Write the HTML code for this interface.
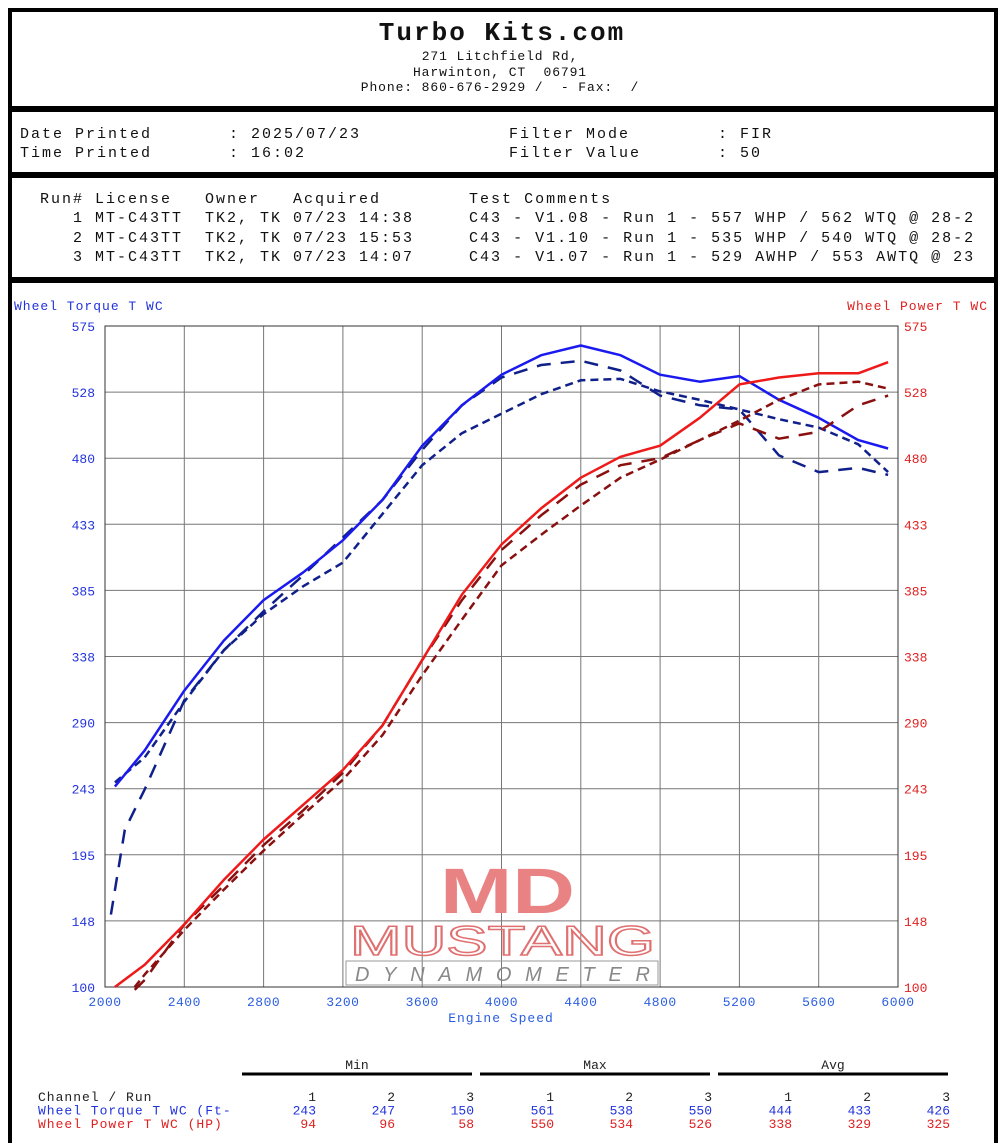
<!DOCTYPE html>
<html><head><meta charset="utf-8"><style>
body{margin:0;background:#fff;width:1000px;height:1139px;overflow:hidden;font-family:"Liberation Mono",monospace;}
.frame{position:absolute;left:8px;top:8px;width:982px;height:1131px;border-left:4px solid #000;border-right:4px solid #000;border-top:4px solid #000;}
.sep{position:absolute;left:8px;width:990px;height:6px;background:#000;}
.t{position:absolute;white-space:pre;font-size:15px;color:#111;letter-spacing:2px;}
</style></head><body>
<div class="frame"></div>
<div class="sep" style="top:106px"></div>
<div class="sep" style="top:172px"></div>
<div class="sep" style="top:277px"></div>
<div>
<div class="t" style="left:0;width:1004px;text-align:center;top:18px;font-size:26px;font-weight:bold;letter-spacing:2px">Turbo Kits.com</div>
<div class="t" style="left:0;width:1000px;text-align:center;top:49px;font-size:13px;line-height:15.5px;letter-spacing:0.9px">271 Litchfield Rd,
Harwinton, CT  06791
Phone: 860-676-2929 /  - Fax:  /</div>
</div>
<div class="t" style="left:20px;top:125px;line-height:19px">Date Printed       : 2025/07/23
Time Printed       : 16:02</div>
<div class="t" style="left:509px;top:125px;line-height:19px">Filter Mode        : FIR
Filter Value       : 50</div>
<div class="t" style="left:40px;top:190px;line-height:19.3px">Run# License   Owner   Acquired        Test Comments
   1 MT-C43TT  TK2, TK 07/23 14:38     C43 - V1.08 - Run 1 - 557 WHP / 562 WTQ @ 28-2
   2 MT-C43TT  TK2, TK 07/23 15:53     C43 - V1.10 - Run 1 - 535 WHP / 540 WTQ @ 28-2
   3 MT-C43TT  TK2, TK 07/23 14:07     C43 - V1.07 - Run 1 - 529 AWHP / 553 AWTQ @ 23</div>

<svg id="chart" width="1000" height="1139" style="position:absolute;left:0;top:0"></svg>
<script>
const rpm=[2050,2200,2400,2600,2800,3000,3200,3400,3600,3800,4000,4200,4400,4600,4800,5000,5200,5400,5600,5800,5950];
const tq1=[244,270,313,349,378,398,421,450,489,518,540,554,561,554,540,535,539,522,509,493,487];
const tq2=[247,265,305,342,368,388,405,440,475,498,512,526,536,537,528,522,515,508,502,490,470];
const rpm3=[2030,2100,2200,2400,2600,2800,3000,3200,3400,3600,3800,4000,4200,4400,4600,4800,5000,5200,5400,5600,5800,5950];
const tq3=[152,213,242,306,342,370,396,423,450,486,518,538,547,550,543,525,518,515,482,470,473,468];
const hp1=[100,116,145,177,206,231,256,288,335,382,418,444,466,481,489,509,533,538,541,541,549];
const hp2r=[2150,2200,2400,2600,2800,3000,3200,3400,3600,3800,4000,4200,4400,4600,4800,5000,5200,5400,5600,5800,5950];
const hp2=[100,109,141,170,198,224,249,281,324,364,403,425,446,466,479,493,507,522,533,535,530];
const hp3=[98,105,145,173,202,227,254,288,335,378,414,439,461,475,480,493,505,494,499,518,525];
const yTicks=["575","528","480","433","385","338","290","243","195","148","100"];
const xTicks=["2000","2400","2800","3200","3600","4000","4400","4800","5200","5600","6000"];
const NS='http://www.w3.org/2000/svg';
const svg=document.getElementById('chart');
const X0=105,X1=898,Y0=326,Y1=987;
const xs=r=>X0+(r-2000)/4000*(X1-X0);
const ys=v=>Y1-(v-100)/475*(Y1-Y0);
const F='Liberation Mono, monospace';
function mk(tag,at,txt){const e=document.createElementNS(NS,tag);for(const k in at)e.setAttribute(k,at[k]);if(txt!=null)e.textContent=txt;svg.appendChild(e);return e;}
for(let i=0;i<=10;i++){
 const x=X0+i*(X1-X0)/10,y=Y0+i*(Y1-Y0)/10;
 let g=mk('line',{x1:x,x2:x,y1:Y0,y2:Y1,stroke:'#777','stroke-width':1});
 
 g=mk('line',{x1:X0,x2:X1,y1:y,y2:y,stroke:'#777','stroke-width':1});
 
 let t=mk('text',{x:x,y:Y1+19,'text-anchor':'middle','font-size':13,fill:'#2a5de0','font-family':F,'letter-spacing':0.5},xTicks[i]);
 
 t=mk('text',{x:X0-10,y:y+5,'text-anchor':'end','font-size':13,fill:'#2233dd','font-family':F},yTicks[i]);
 
 t=mk('text',{x:X1+6,y:y+5,'font-size':13,fill:'#e02020','font-family':F},yTicks[i]);
 
}
let r=mk('rect',{x:X0,y:Y0,width:X1-X0,height:Y1-Y0,fill:'none',stroke:'#333','stroke-width':1});

let lab=mk('text',{x:14,y:310,'font-size':13,fill:'#2233dd','font-family':F,'letter-spacing':1},'Wheel Torque T WC');

lab=mk('text',{x:988,y:310,'text-anchor':'end','font-size':13,fill:'#e02020','font-family':F,'letter-spacing':1},'Wheel Power T WC');

lab=mk('text',{x:501,y:1022,'text-anchor':'middle','font-size':13,fill:'#2a5de0','font-family':F,'letter-spacing':1},'Engine Speed');

// watermark
let w=mk('text',{x:440,y:913,'font-size':64,'font-weight':'bold',fill:'#e98282','font-family':'Liberation Sans, sans-serif',textLength:135,lengthAdjust:'spacingAndGlyphs'},'MD');

w=mk('text',{x:350,y:955,'font-size':42,fill:'none',stroke:'#e07070','stroke-width':1.5,'font-family':'Liberation Sans, sans-serif',textLength:305,lengthAdjust:'spacingAndGlyphs'},'MUSTANG');

w=mk('rect',{x:346,y:961,width:312,height:24,fill:'none',stroke:'#999','stroke-width':1});

w=mk('text',{x:355,y:981,'font-size':20,'font-style':'italic',fill:'#888','font-family':'Liberation Sans, sans-serif',textLength:295},'DYNAMOMETER');

function series(xv,yv,color,dash,name){
 const d=xv.map((x,i)=>(i?'L':'M')+xs(x).toFixed(1)+','+ys(yv[i]).toFixed(1)).join(' ');
 const p=mk('path',{d:d,fill:'none',stroke:color,'stroke-width':2.5,'stroke-dasharray':dash,'stroke-linejoin':'round'});
 
}
series(rpm3,tq3,'#10208a','14 10','torque-run-3');
series(rpm,tq2,'#10208a','8 5','torque-run-2');
series(rpm,tq1,'#1a1aee','','torque-run-1');
series(hp2r,hp3,'#8a1010','14 10','power-run-3');
series(hp2r,hp2,'#8a1010','8 5','power-run-2');
series(rpm,hp1,'#ee1a1a','','power-run-1');
// summary
const groups=["Min","Max","Avg"],gx=[242,480,718];
groups.forEach((g,i)=>{
 let t=mk('text',{x:gx[i]+115,y:1069,'text-anchor':'middle','font-size':13,fill:'#222','font-family':F},g);
 
 let l=mk('line',{x1:gx[i],x2:gx[i]+230,y1:1074,y2:1074,stroke:'#000','stroke-width':3});
 
});
const rowLabels=["Channel / Run","Wheel Torque T WC (Ft-","Wheel Power T WC (HP)"];
const rowColors=["#222","#2233dd","#e02020"];
const runRow=["1","2","3","1","2","3","1","2","3"];
const torqueStats=["243","247","150","561","538","550","444","433","426"];
const powerStats=["94","96","58","550","534","526","338","329","325"];
const rowsVals=[runRow,torqueStats,powerStats];
const colx=[316,395,474,554,633,712,792,871,950];
rowLabels.forEach((lbl,j)=>{
 const y=1101+j*13.5;
 let t=mk('text',{x:38,y:y,'font-size':13,fill:rowColors[j],'font-family':F,'letter-spacing':1},lbl);
 
 rowsVals[j].forEach((v,k)=>{
  let c=mk('text',{x:colx[k],y:y,'text-anchor':'end','font-size':13,fill:rowColors[j],'font-family':F},v);
  
 });
});
</script>
</body></html>
